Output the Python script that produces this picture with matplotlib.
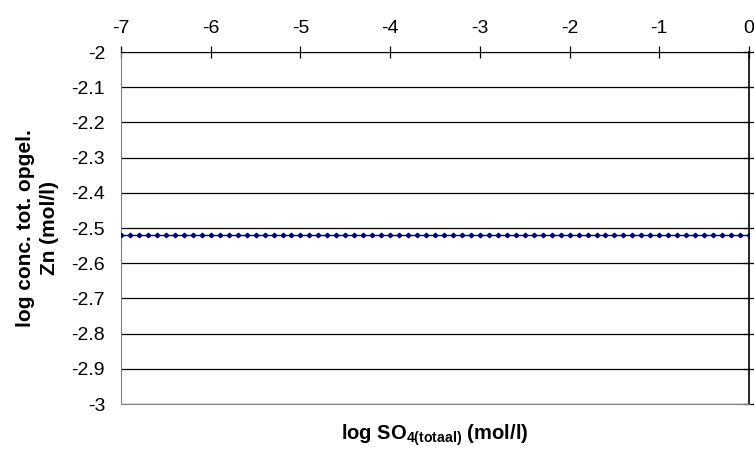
import matplotlib.pyplot as plt

plt.rcParams['font.family'] = ['Liberation Sans', 'DejaVu Sans']
plt.rcParams['mathtext.fontset'] = 'custom'
plt.rcParams['mathtext.rm'] = 'Liberation Sans'
plt.rcParams['mathtext.bf'] = 'Liberation Sans:bold'

# log SO4 total, step 0.1 from -7 to 0
log_so4 = [-7.0, -6.9, -6.8, -6.7, -6.6, -6.5, -6.4, -6.3, -6.2, -6.1,
           -6.0, -5.9, -5.8, -5.7, -5.6, -5.5, -5.4, -5.3, -5.2, -5.1,
           -5.0, -4.9, -4.8, -4.7, -4.6, -4.5, -4.4, -4.3, -4.2, -4.1,
           -4.0, -3.9, -3.8, -3.7, -3.6, -3.5, -3.4, -3.3, -3.2, -3.1,
           -3.0, -2.9, -2.8, -2.7, -2.6, -2.5, -2.4, -2.3, -2.2, -2.1,
           -2.0, -1.9, -1.8, -1.7, -1.6, -1.5, -1.4, -1.3, -1.2, -1.1,
           -1.0, -0.9, -0.8, -0.7, -0.6, -0.5, -0.4, -0.3, -0.2, -0.1,
           0.0]
# dissolved Zn stays flat over the whole range
log_zn = [-2.52] * len(log_so4)

x_ticks = [-7, -6, -5, -4, -3, -2, -1, 0]
y_ticks = [-3, -2.9, -2.8, -2.7, -2.6, -2.5, -2.4, -2.3, -2.2, -2.1, -2]
y_labels = ['-3', '-2.9', '-2.8', '-2.7', '-2.6', '-2.5', '-2.4', '-2.3', '-2.2', '-2.1', '-2']

fig = plt.figure(figsize=(7.54, 4.5), dpi=100)
ax = fig.add_axes([0.1605, 0.1022, 0.8329, 0.7822])

ax.plot(log_so4, log_zn, color='#000080', lw=1.0, marker='D', ms=2.3,
        markerfacecolor='#000080', markeredgecolor='#000080', zorder=3)

ax.set_xlim(-7, 0)
ax.set_ylim(-3, -2)

# horizontal grid lines
for yv in y_ticks:
    ax.axhline(yv, color='black', lw=0.9, zorder=1)

# x axis on top, labels above
ax.xaxis.tick_top()
ax.set_xticks(x_ticks)
ax.set_xticklabels([str(v) for v in x_ticks])
ax.tick_params(axis='x', direction='inout', length=8, width=0.9, color='black',
               labelsize=14, pad=7)

# y axis sits at x = 0 (right), labels on the left
ax.set_yticks(y_ticks)
ax.set_yticklabels(y_labels)
ax.tick_params(axis='y', left=False, right=True, labelleft=True, labelright=False,
               direction='inout', length=8, width=0.9, color='black',
               labelsize=14, pad=7.5)

ax.spines['top'].set_color('black')
ax.spines['right'].set_color('black')
ax.spines['right'].set_linewidth(1.2)
ax.spines['left'].set_color('#808080')
ax.spines['bottom'].set_color('#808080')

ax.set_ylabel('log conc. tot. opgel.\nZn (mol/l)', fontsize=15,
              fontweight='bold', labelpad=9, linespacing=1.3)
fig.text(0.577, 0.022, r'log SO$_{\mathbf{4(totaal)}}$ (mol/l)', ha='center',
         fontsize=14.5, fontweight='bold')

fig.savefig('out.png', dpi=100)
